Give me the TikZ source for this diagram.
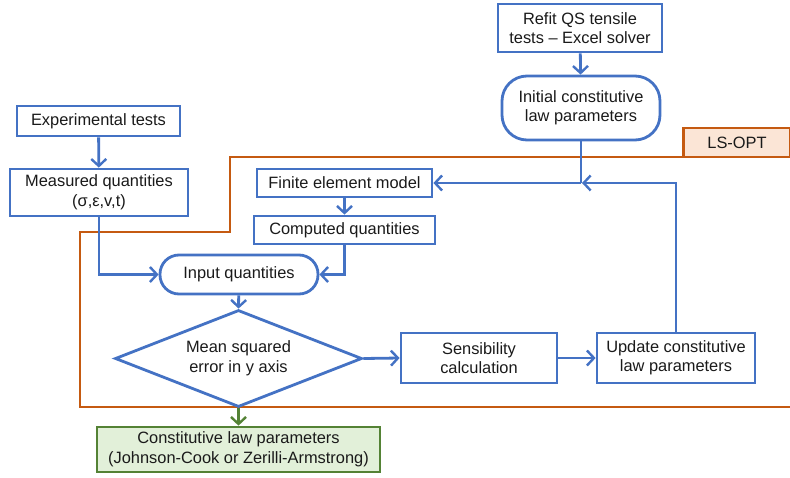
\documentclass[tikz,border=0pt]{standalone}
\usepackage{fontspec}
\setmainfont{Liberation Sans}
\usetikzlibrary{arrows.meta,shapes.geometric}
\definecolor{bl}{HTML}{4472C4}
\definecolor{orn}{HTML}{C55A11}
\definecolor{ornfill}{HTML}{FBE5D6}
\definecolor{grn}{HTML}{548235}
\definecolor{grnfill}{HTML}{E2F0D9}
\definecolor{txt}{HTML}{1A1A1A}
\begin{document}
\begin{tikzpicture}[x=1pt,y=-1pt,
  font=\fontsize{16.4}{19.5}\selectfont,
  box/.style={draw=bl,line width=2.8pt,fill=white,text=txt,inner sep=0pt,align=center},
  pill/.style={box,rounded corners=#1},
  tip/.style={-{Straight Barb[length=7pt,width=15pt,line width=2.4pt]}},
  conn/.style={draw=bl,line width=2.8pt,tip},
  plain/.style={draw=bl,line width=2.8pt},
  lsline/.style={draw=orn,line width=2.6pt}]
\useasboundingbox (0,0) rectangle (790,477);
% LS-OPT region
\draw[lsline] (790,157) -- (230,157) -- (230,232) -- (80,232) -- (80,407) -- (790,407);
\node[draw=orn,line width=2.6pt,fill=ornfill,text=txt,minimum width=107pt,minimum height=29pt,inner sep=0pt] (ls) at (737,142.5) {LS-OPT};
% nodes
\node[box,minimum width=164pt,minimum height=48pt] (refit) at (580,28) {Refit QS tensile\\tests – Excel solver};
\node[pill=25pt,minimum width=158pt,minimum height=64pt] (init) at (581,108) {Initial constitutive\\law parameters};
\node[box,minimum width=163pt,minimum height=30pt] (exp) at (98.5,121) {Experimental tests};
\node[box,minimum width=178pt,minimum height=47pt] (meas) at (99,192.5) {Measured quantities\\(σ,ε,v,t)};
\node[box,minimum width=175pt,minimum height=28pt] (fem) at (344.5,183) {Finite element model};
\node[box,minimum width=181pt,minimum height=28pt] (comp) at (344.5,230) {Computed quantities};
\node[pill=19pt,minimum width=158pt,minimum height=39pt] (inp) at (239,274.5) {Input quantities};
\node[box,shape=diamond,aspect=2.5,minimum width=247pt,minimum height=97pt] (mse) at (238.5,358.5) {Mean squared\\error in y axis};
\node[box,minimum width=156pt,minimum height=50pt] (sens) at (479,358) {Sensibility\\calculation};
\node[box,minimum width=158pt,minimum height=50pt] (upd) at (676,358) {Update constitutive\\law parameters};
\node[draw=grn,line width=2.8pt,fill=grnfill,text=txt,inner sep=0pt,align=center,minimum width=283pt,minimum height=45pt] (cl) at (238.5,449.5) {Constitutive law parameters\\(Johnson-Cook or Zerilli-Armstrong)};
% junction
\coordinate (j) at (init.south |- fem.east);
% connectors
\draw[conn] (refit) -- (init);
\draw[conn] (exp) -- (meas);
\draw[plain] (init.south) -- (j);
\draw[conn] (j) -- (fem.east);
\draw[conn] (upd.north) |- ([xshift=1pt]j);
\draw[conn] (fem) -- (comp);
\draw[conn] (meas.south) |- (inp.west);
\draw[conn] (comp.south) |- (inp.east);
\draw[conn] (inp) -- (mse.north);
\draw[conn] (mse.east) -- (sens.west);
\draw[conn] (sens) -- (upd);
\draw[draw=grn,line width=2.8pt,tip] (mse.south) -- (cl.north);
\end{tikzpicture}
\end{document}
